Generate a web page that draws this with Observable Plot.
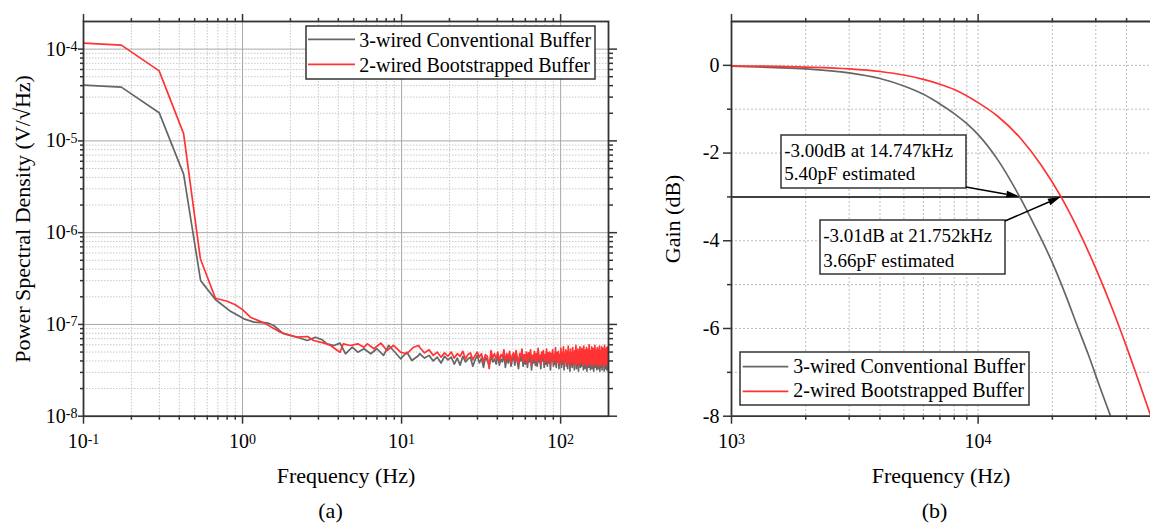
<!DOCTYPE html>
<html><head><meta charset="utf-8">
<script src="https://cdn.jsdelivr.net/npm/d3@7"></script>
<script src="https://cdn.jsdelivr.net/npm/@observablehq/plot@0.6"></script>
<style>
body{margin:0;background:#fff;}
#wrap{position:relative;width:1151px;height:524px;overflow:hidden;background:#fff;}
#wrap svg{position:absolute;top:0;}
</style></head><body><div id="wrap"></div>
<script>
// ---------- series names / colours ----------
const seriesNames = ["3-wired Conventional Buffer", "2-wired Bootstrapped Buffer"];
const seriesColors = ["#666666", "#ff3333"];

// ---------- panel (a): PSD, values in units of 1e-8 V/√Hz ----------
const convLowF = [0.1, 0.173, 0.299, 0.426, 0.545, 0.675, 0.84, 1.02, 1.18, 1.43, 1.57, 1.81, 2.2, 2.56, 2.87, 3.17, 3.4, 3.76, 4.1, 4.44, 4.9, 5.3, 5.8, 6.4, 7.0, 7.7, 8.3, 9.1, 9.85, 10.8, 11.6, 12.8];
const convLowV = [4060, 3850, 2030, 435, 30, 18.7, 13.9, 11.5, 10.6, 10.4, 9.74, 7.91, 7.26, 6.68, 7.26, 6.8, 6.15, 5.9, 6.25, 4.79, 5.65, 4.98, 5.43, 4.79, 5.43, 4.59, 5.9, 4.98, 4.22, 4.98, 4.05, 4.59];
const bootLowF = [0.1, 0.173, 0.299, 0.426, 0.543, 0.675, 0.8, 0.9, 1.0, 1.12, 1.36, 1.73, 2.2, 2.56, 2.8, 3.26, 3.58, 3.95, 4.1, 4.3, 4.77, 5.3, 5.8, 6.1, 6.7, 7.4, 8.1, 8.9, 9.85, 10.8, 11.9, 12.8];
const bootLowV = [11600, 11050, 5800, 1200, 52, 19.3, 17.9, 16.4, 14.5, 12.0, 10.4, 8.23, 7.26, 7.39, 6.68, 6.25, 5.9, 5.2, 4.98, 6.15, 5.9, 6.15, 5.65, 6.15, 5.43, 6.25, 5.2, 5.9, 4.98, 4.79, 5.65, 5.9];
// dense noise floor, 13 Hz .. 200 Hz on an evenly spaced (linear) frequency grid
const tailStart = 13, tailEnd = 200;
const convTailV = [4.8,4.3,4.6,4.0,4.4,3.8,4.5,4.1,
 4.4,3.7,4.3,3.6,4.5,3.9,4.2,4.4,3.5,4.1,4.6,3.8,4.3,3.4,4.4,4.0,3.6,4.5,3.9,4.2,3.7,
 4.6,3.6,4.2,3.9,4.8,3.4,4.4,3.8,4.7,3.5,
 4.1,4.5,3.6,4.8,3.9,3.3,4.4,4.0,4.9,3.5,
 4.3,3.7,4.6,3.4,4.5,3.9,4.8,3.2,4.2,3.8,
 4.7,3.6,4.4,3.5,5.0,3.9,4.2,3.3,4.6,4.0,
 4.8,3.4,4.3,3.7,4.9,3.5,4.5,3.8,4.6,3.2,
 4.4,4.0,4.8,3.5,4.2,3.7,5.0,3.4,4.5,3.9,
 4.7,3.3,4.3,3.8,
 4.9,3.4,4.5,3.7,5.1,3.2,4.2,4.0,4.8,3.5,
 4.6,3.3,5.2,3.8,4.3,3.1,4.9,3.6,4.5,3.4,
 5.0,3.9,4.1,3.2,4.7,3.7,5.3,3.3,4.4,3.6,
 4.9,3.1,4.6,3.9,5.1,3.4,4.2,3.5,5.0,3.8,
 4.7,3.2,5.2,3.6,4.3,3.3,4.8,4.0,5.0,3.1,
 4.5,3.7,4.9,3.4,5.3,3.5,4.4,3.2,4.7,3.8,
 5.1,3.3,4.6,3.6,5.0,3.1,4.3,3.9,5.2,3.4,
 4.6,3.5,4.8,3.2,5.0,3.7,4.4,3.3,4.9,3.6,
 5.2,3.1,4.5,3.8,4.7,3.4,5.1,3.2,4.4,3.7,
 4.9,3.5,4.8,3.1,5.2,3.6,4.3,3.3,4.8,3.8,
 5.0,3.2,4.6,3.4,5.1,3.5,3.0];
const bootTailV = [5.6,4.9,5.3,4.6,5.0,4.4,4.9,4.5,
 5.0,4.3,4.8,4.5,5.1,4.2,4.7,4.9,4.1,4.6,5.0,4.4,4.8,3.9,4.7,4.5,3.3,5.2,4.3,4.8,4.2,
 5.0,4.0,4.7,4.4,5.3,3.9,4.8,4.2,5.1,3.8,
 4.6,4.9,4.0,5.2,4.3,3.7,4.8,4.5,5.4,3.9,
 4.7,4.1,5.0,3.8,4.9,4.4,5.3,3.6,4.6,4.2,
 5.1,4.0,4.8,3.9,5.5,4.3,4.6,3.7,5.0,4.4,
 5.2,3.8,4.7,4.1,5.4,3.9,4.9,4.2,5.0,3.6,
 4.8,4.4,5.3,3.9,4.6,4.1,5.6,3.8,4.9,4.3,
 5.1,3.7,4.7,4.2,
 5.5,3.8,4.9,4.1,5.7,3.6,4.6,4.4,5.3,3.9,
 5.0,3.7,5.8,4.2,4.7,3.5,5.4,4.0,4.9,3.8,
 5.6,4.3,4.5,3.6,5.2,4.1,5.9,3.7,4.8,4.0,
 5.4,3.5,5.0,4.3,5.7,3.8,4.6,3.9,5.5,4.2,
 5.1,3.6,5.8,4.0,4.7,3.7,5.3,4.4,5.6,3.5,
 4.9,4.1,5.4,3.8,6.0,3.9,4.8,3.6,5.2,4.2,
 5.7,3.7,5.0,4.0,5.5,3.5,4.7,4.3,5.9,3.8,
 5.1,3.9,5.3,3.6,5.6,4.1,4.8,3.7,5.4,4.0,
 5.8,3.5,5.0,4.2,5.2,3.8,5.7,3.6,4.9,4.1,
 5.5,3.9,5.3,3.5,5.9,4.0,4.8,3.7,5.4,4.2,
 5.6,3.6,5.1,3.8,5.7,3.9,5.2];
const psdUnit = 1e-8;

const psdXDomain = [0.1, 200];
const psdYDomain = [1e-8, 2e-4];
const psdXMajor = [0.1, 1, 10, 100];
const psdXMinor = [0.2,0.3,0.4,0.5,0.6,0.7,0.8,0.9, 2,3,4,5,6,7,8,9, 20,30,40,50,60,70,80,90];
const psdYMajor = [1e-8, 1e-7, 1e-6, 1e-5, 1e-4];
const psdYMinor = [1e-8,1e-7,1e-6,1e-5].flatMap(d => [2,3,4,5,6,7,8,9].map(m => m * d));
const psdXLabel = "Frequency (Hz)";
const psdYLabel = "Power Spectral Density (V/\u221AHz)";

// ---------- panel (b): gain ----------
const convGainF = [1000,1500,2000,3000,4000,5000,6000,7000,8000,9000,10000,12000,14747,17000,20000,22500,25000,28000,31000,34700];
const convGainG = [-0.02,-0.05,-0.08,-0.17,-0.3,-0.47,-0.66,-0.88,-1.1,-1.33,-1.58,-2.15,-3.0,-3.67,-4.5,-5.2,-5.88,-6.6,-7.3,-8.05];
const bootGainF = [1000,2000,3000,4000,5000,6000,7000,8000,10000,12000,15000,18000,21752,25000,30000,35000,40000,45000,50000];
const bootGainG = [-0.01,-0.04,-0.08,-0.14,-0.22,-0.32,-0.43,-0.55,-0.85,-1.16,-1.69,-2.27,-3.01,-3.66,-4.63,-5.55,-6.42,-7.23,-7.98];
const cutoffLevel = [-3];
const annF = [14747, 21752];
const annG = [-3.00, -3.01];
const annLines = [["-3.00dB at 14.747kHz", "5.40pF estimated"], ["-3.01dB at 21.752kHz", "3.66pF estimated"]];

const gainXDomain = [1000, 50000];
const gainYDomain = [-8, 1];
const gainXMajor = [1000, 10000];
const gainXMinor = [2000,3000,4000,5000,6000,7000,8000,9000,20000,30000,40000];
const gainYMajor = [0, -2, -4, -6, -8];
const gainYMinor = [-1, -3, -5, -7];
const gainYGrid = [0, -1, -2, -4, -5, -6, -7];
const gainXLabel = "Frequency (Hz)";
const gainYLabel = "Gain (dB)";
const captions = ["(a)", "(b)"];

// ---------- tables ----------
const tailF = n => d3.range(n).map(i => tailStart + (tailEnd - tailStart) * i / (n - 1));
const convF = convLowF.concat(tailF(convTailV.length));
const bootF = bootLowF.concat(tailF(bootTailV.length));
const convAll = convLowV.concat(convTailV), bootAll = bootLowV.concat(bootTailV);
const convPSD = convF.map((f, i) => ({f, v: convAll[i] * psdUnit}));
const bootPSD = bootF.map((f, i) => ({f, v: bootAll[i] * psdUnit}));
const convGain = convGainF.map((f, i) => ({f, g: convGainG[i]}));
const bootGain = bootGainF.map((f, i) => ({f, g: bootGainG[i]}));

const fontFam = "'Liberation Serif','Times New Roman',serif";
const axisStroke = "#333";
const supFmt = d => "10^" + Math.round(Math.log10(d));
const blank = () => "";
const style = {fontFamily: fontFam, fontSize: "20px", color: "#000", background: "transparent", overflow: "visible"};
const ax = (fn, ticks, o) => fn(ticks, {label: null, stroke: axisStroke, strokeWidth: 1.5, tickFormat: blank, ...o});

const left = Plot.plot({
  width: 640, height: 524, marginLeft: 83, marginRight: 32, marginTop: 21, marginBottom: 108.3,
  style,
  x: {type: "log", domain: psdXDomain},
  y: {type: "log", domain: psdYDomain},
  marks: [
    Plot.gridX(psdXMinor, {stroke: "#c8c8c8", strokeOpacity: 1, strokeDasharray: "1.5,1.5"}),
    Plot.gridY(psdYMinor, {stroke: "#c8c8c8", strokeOpacity: 1, strokeDasharray: "1.5,1.5"}),
    Plot.gridX(psdXMajor.slice(1), {stroke: "#a8a8a8", strokeOpacity: 1}),
    Plot.gridY(psdYMajor.slice(1), {stroke: "#a8a8a8", strokeOpacity: 1}),
    Plot.line(convPSD, {x: "f", y: "v", stroke: seriesColors[0], strokeWidth: 1.7, clip: true}),
    Plot.line(bootPSD, {x: "f", y: "v", stroke: seriesColors[1], strokeWidth: 1.7, clip: true}),
    Plot.frame({stroke: axisStroke, strokeWidth: 1.8}),
    ax(Plot.axisX, psdXMajor, {anchor: "bottom", tickSize: 8, tickPadding: 10, tickFormat: supFmt}),
    ax(Plot.axisX, psdXMinor, {anchor: "bottom", tickSize: 4}),
    ax(Plot.axisX, psdXMajor, {anchor: "top", tickSize: 8}),
    ax(Plot.axisX, psdXMinor, {anchor: "top", tickSize: 4}),
    ax(Plot.axisY, psdYMajor, {anchor: "left", tickSize: 5, tickPadding: 1, tickFormat: supFmt}),
    ax(Plot.axisY, psdYMinor, {anchor: "left", tickSize: 3}),
    ax(Plot.axisY, psdYMajor, {anchor: "right", tickSize: 8}),
    ax(Plot.axisY, psdYMinor, {anchor: "right", tickSize: 4}),
    Plot.text([psdXLabel], {frameAnchor: "bottom", dy: 50.7, lineAnchor: "top", textAnchor: "middle", fontSize: 22}),
    Plot.text([psdYLabel], {frameAnchor: "left", dx: -61, rotate: -90, lineAnchor: "middle", textAnchor: "middle", fontSize: 22}),
    Plot.text([captions[0]], {frameAnchor: "bottom", dx: -15.5, dy: 85.7, lineAnchor: "top", textAnchor: "middle", fontSize: 22})
  ]
});

const right = Plot.plot({
  width: 511, height: 524, marginLeft: 91, marginRight: 1, marginTop: 21, marginBottom: 108.3,
  style,
  x: {type: "log", domain: gainXDomain},
  y: {domain: gainYDomain},
  marks: [
    Plot.gridX(gainXMinor.concat([gainXMajor[1]]), {stroke: "#bdbdbd", strokeOpacity: 1, strokeDasharray: "2,2"}),
    Plot.gridY(gainYGrid, {stroke: "#bdbdbd", strokeOpacity: 1, strokeDasharray: "2,2"}),
    Plot.ruleY(cutoffLevel, {stroke: "#000", strokeWidth: 1.5}),
    Plot.line(convGain, {x: "f", y: "g", stroke: seriesColors[0], strokeWidth: 1.7, curve: "monotone-x", clip: true}),
    Plot.line(bootGain, {x: "f", y: "g", stroke: seriesColors[1], strokeWidth: 1.7, curve: "monotone-x", clip: true}),
    Plot.ruleX([gainXDomain[0]], {stroke: axisStroke, strokeWidth: 1.8}),
    Plot.ruleY([gainYDomain[0], gainYDomain[1]], {stroke: axisStroke, strokeWidth: 1.8}),
    ax(Plot.axisX, gainXMajor, {anchor: "bottom", tickSize: 8, tickPadding: 10, tickFormat: supFmt}),
    ax(Plot.axisX, gainXMinor, {anchor: "bottom", tickSize: 4}),
    ax(Plot.axisX, gainXMajor, {anchor: "top", tickSize: 8}),
    ax(Plot.axisX, gainXMinor, {anchor: "top", tickSize: 4}),
    ax(Plot.axisY, gainYMajor, {anchor: "left", tickSize: 8, tickPadding: 4, tickFormat: d => String(d)}),
    ax(Plot.axisY, gainYMinor, {anchor: "left", tickSize: 4}),
    Plot.text([gainXLabel], {frameAnchor: "bottom", dy: 50.7, lineAnchor: "top", textAnchor: "middle", fontSize: 22}),
    Plot.text([gainYLabel], {frameAnchor: "left", dx: -59, rotate: -90, lineAnchor: "middle", textAnchor: "middle", fontSize: 22}),
    Plot.text([captions[1]], {frameAnchor: "bottom", dx: -6.5, dy: 85.7, lineAnchor: "top", textAnchor: "middle", fontSize: 22})
  ]
});

const wrap = document.getElementById("wrap");
left.style.left = "0px";
right.style.left = "640px";
wrap.appendChild(left);
wrap.appendChild(right);

// superscript exponents in tick labels
for (const svg of [left, right]) {
  d3.select(svg).selectAll("text").each(function() {
    const m = this.textContent.match(/^10\^(-?\d+)$/);
    if (m) {
      const s = d3.select(this);
      s.text("");
      s.append("tspan").text("10");
      s.append("tspan").attr("dy", "-0.32em").attr("font-size", "14px").text(m[1]);
    }
  });
}

// legends
function legend(svg, bx, by, bw, bh, lx1, lx2, lys, tx, tbs) {
  const g = d3.select(svg).append("g").attr("font-family", fontFam).attr("font-size", 20).attr("text-anchor", "start");
  g.append("rect").attr("x", bx).attr("y", by).attr("width", bw).attr("height", bh)
    .attr("fill", "#fff").attr("stroke", axisStroke).attr("stroke-width", 1.5);
  seriesNames.forEach((name, i) => {
    g.append("line").attr("x1", lx1).attr("x2", lx2).attr("y1", lys[i]).attr("y2", lys[i])
      .attr("stroke", seriesColors[i]).attr("stroke-width", 1.7);
    g.append("text").attr("x", tx).attr("y", tbs[i]).attr("fill", "#000").attr("text-anchor", "start").text(name);
  });
}
legend(left, 306, 26, 289, 53, 308, 355, [39.3, 64.3], 359.3, [46.7, 71.7]);
legend(right, 100, 352, 289, 53, 102.7, 148.3, [366.7, 391.3], 153.3, [373.3, 397.3]);

// annotations with arrows
const xs = right.scale("x"), ys = right.scale("y");
const boxes = [{x: 141, y: 135, w: 185, h: 53, tail: "br"}, {x: 180, y: 220, w: 185, h: 54, tail: "tr"}];
const ag = d3.select(right).append("g").attr("font-family", fontFam).attr("font-size", 19).attr("text-anchor", "start");
boxes.forEach((b, i) => {
  ag.append("rect").attr("x", b.x).attr("y", b.y).attr("width", b.w).attr("height", b.h)
    .attr("fill", "#fff").attr("stroke", axisStroke).attr("stroke-width", 1.5);
  annLines[i].forEach((t, j) => {
    ag.append("text").attr("x", b.x + 3.3).attr("y", b.y + 21.7 + j * (b.h === 53 ? 23.3 : 25.6))
      .attr("fill", "#000").attr("text-anchor", "start").text(t);
  });
  const x1 = b.x + b.w, y1 = b.tail === "br" ? b.y + b.h - 1 : b.y + 1;
  const x2 = xs.apply(annF[i]), y2 = ys.apply(annG[i]);
  const L = 13, W = 3.5;
  const dx = x2 - x1, dy = y2 - y1, len = Math.hypot(dx, dy), ux = dx / len, uy = dy / len;
  const bx = x2 - ux * L, by = y2 - uy * L;
  ag.append("line").attr("x1", x1).attr("y1", y1).attr("x2", bx).attr("y2", by).attr("stroke", "#000").attr("stroke-width", 1.5);
  ag.append("path").attr("d", `M${x2},${y2}L${bx - uy * W},${by + ux * W}L${bx + uy * W},${by - ux * W}Z`).attr("fill", "#000");
});
</script></body></html>
